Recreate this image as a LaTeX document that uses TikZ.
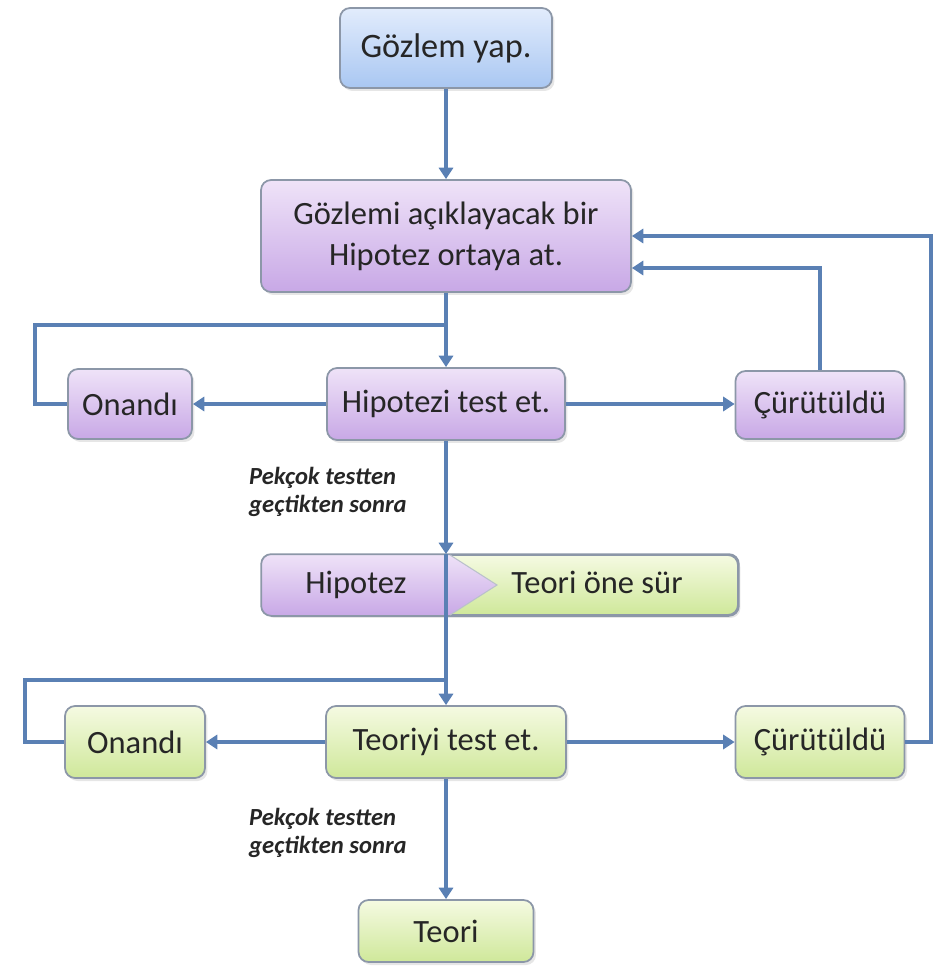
\documentclass[tikz,border=0pt]{standalone}
\usepackage{fontspec}
\setmainfont{Carlito}
\usetikzlibrary{arrows.meta,calc,shadows}

\definecolor{flow}{HTML}{5A80B4}
\definecolor{edge}{HTML}{8C97A8}
\definecolor{ink}{HTML}{262626}
\definecolor{btop}{HTML}{E2ECFC}
\definecolor{bbot}{HTML}{A9C7F2}
\definecolor{ptop}{HTML}{EFE3F8}
\definecolor{pbot}{HTML}{C8A8E6}
\definecolor{gtop}{HTML}{F5FAE2}
\definecolor{gbot}{HTML}{CFE89A}

\tikzset{
  box/.style={draw=edge, line width=1pt, rounded corners=0.2cm, align=center, text=ink,
    font=\fontsize{18.5}{23.5}\selectfont,
    drop shadow={opacity=0.2, shadow xshift=0.05cm, shadow yshift=-0.06cm}},
  bluebox/.style={box, top color=btop, bottom color=bbot},
  purplebox/.style={box, top color=ptop, bottom color=pbot},
  greenbox/.style={box, top color=gtop, bottom color=gbot},
  label/.style={text=ink, text height=1.45ex, text depth=0.45ex, font=\fontsize{18.5}{23.5}\selectfont},
  note/.style={text=ink, align=left, anchor=west, font=\fontsize{14}{16}\selectfont\bfseries\itshape},
  flowline/.style={draw=flow, line width=2.2pt}
}

\begin{document}
\begin{tikzpicture}[x=0.02cm, y=-0.02cm, >={Triangle[width=8pt,length=6.5pt]}]
  \useasboundingbox (0,0) rectangle (936,969);
  % hypothesis stage
  \node[bluebox, minimum width=4.24cm, minimum height=1.6cm, font=\fontsize{19.5}{23.5}\selectfont] (obs) at (446,48) {Gözlem yap.};
  \node[purplebox, minimum width=7.4cm, minimum height=2.24cm] (hyp) at (446,236) {Gözlemi açıklayacak bir\\Hipotez ortaya at.};
  \node[purplebox, minimum width=4.76cm, minimum height=1.44cm] (htest) at (446,404) {Hipotezi test et.};
  \node[purplebox, minimum width=2.48cm, minimum height=1.4cm] (hok) at (130,404) {Onandı};
  \node[purplebox, minimum width=3.38cm, minimum height=1.36cm] (hrej) at (820,405) {Çürütüldü};
  \node[note] (hnote) at (243,492) {Pekçok testten\\geçtikten sonra};
  % hypothesis -> theory
  \node[greenbox, minimum width=9.52cm, minimum height=1.2cm] (split) at (500,585) {};
  \begin{scope}
    \clip (250,540) -- (450,540) -- (450,555) -- (497,585) -- (450,615) -- (450,630) -- (250,630) -- cycle;
    \shade[top color=ptop, bottom color=pbot, rounded corners=0.2cm] (split.north west) rectangle (split.south east);
  \end{scope}
  \draw[edge, line width=1pt, rounded corners=0.2cm] (split.north west) rectangle (split.south east);
  \draw[edge!60, line width=0.6pt] (450,555) -- (497,585) -- (450,615);
  \node[label] (hname) at (356,589) {Hipotez};
  \node[label] (tname) at (597,589) {Teori öne sür};
  % theory stage
  \node[greenbox, minimum width=4.8cm, minimum height=1.44cm] (ttest) at (446,742) {Teoriyi test et.};
  \node[greenbox, minimum width=2.8cm, minimum height=1.44cm] (tok) at (135,742) {Onandı};
  \node[greenbox, minimum width=3.38cm, minimum height=1.44cm] (trej) at (820,742) {Çürütüldü};
  \node[note] (tnote) at (243,833) {Pekçok testten\\geçtikten sonra};
  \node[greenbox, minimum width=3.5cm, minimum height=1.24cm] (teori) at (446,931) {Teori};

  \coordinate (hjoin) at (446,325);
  \coordinate (tjoin) at (446,680);

  \draw[flowline,->] (obs.south) -- (hyp.north);
  \draw[flowline,->] (hyp.south) -- (htest.north);
  \draw[flowline] (hjoin) -| (35,404) -- (hok.west);
  \draw[flowline,->] (htest.west) -- (hok.east);
  \draw[flowline,->] (htest.east) -- (hrej.west |- htest.east);
  \draw[flowline,->] (hrej.north) |- ($(hyp.east)+(0,32)$);
  \draw[flowline,->] (htest.south) -- (htest.south |- split.north);
  \draw[flowline] (htest.south |- split.north) -- (htest.south |- split.south);
  \draw[flowline,->] (htest.south |- split.south) -- (ttest.north);
  \draw[flowline] (tjoin) -| (25,742) -- (tok.west);
  \draw[flowline,->] (ttest.west) -- (tok.east);
  \draw[flowline,->] (ttest.east) -- (trej.west);
  \draw[flowline,->] (trej.east) -- (931,742) |- (hyp.east);
  \draw[flowline,->] (ttest.south) -- (teori.north);
\end{tikzpicture}
\end{document}
